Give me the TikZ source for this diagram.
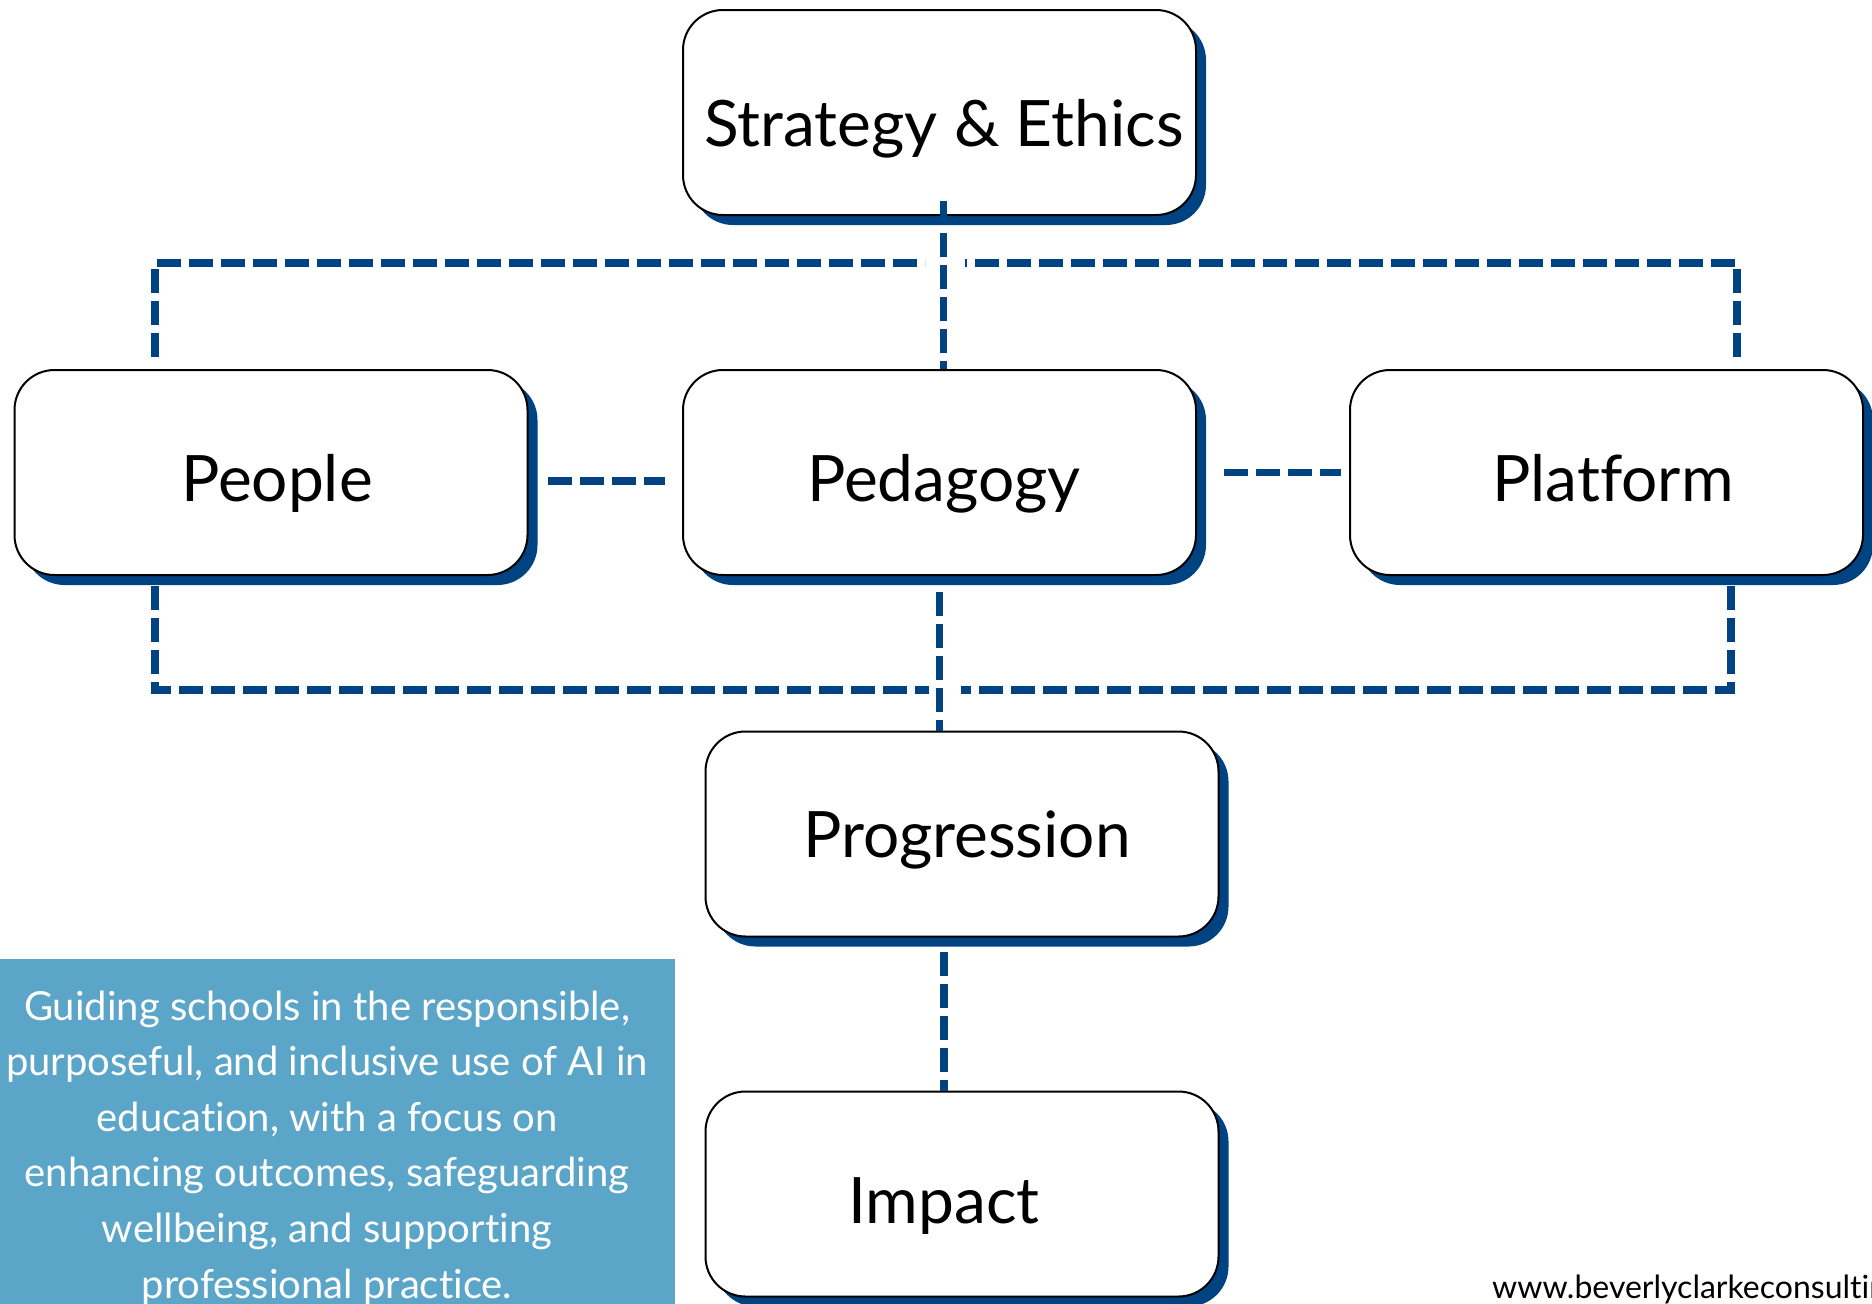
\documentclass[tikz,border=0pt]{standalone}
\usepackage{fontspec}
\setmainfont{Lato}[Ligatures=NoCommon]
\usetikzlibrary{shadows,calc}
\definecolor{navy}{RGB}{0,67,130}
\definecolor{sky}{RGB}{91,165,200}
\begin{document}
\begin{tikzpicture}[x=1pt,y=-1pt,
  box/.style={draw=black, line width=2pt, fill=white, rounded corners=40pt,
    minimum width=513pt, minimum height=205pt, inner sep=0pt,
    drop shadow={shadow xshift=10pt, shadow yshift=-10pt, fill=navy, opacity=1}},
  lbl/.style={anchor=base, inner sep=0pt, font=\fontsize{64}{77}\selectfont},
  conn/.style={draw=navy, line width=7.5pt, dash pattern=on 24pt off 8pt}]
\useasboundingbox (0,0) rectangle (1872,1304);

% boxes
\node[box] (strategy) at (939.5,112.5) {};
\node[box] (people) at (271,472.5) {};
\node[box] (pedagogy) at (939.5,472.5) {};
\node[box] (platform) at (1606.5,472.5) {};
\node[box] (progression) at (962,834) {};
\node[box] (impact) at (962,1194) {};

% labels
\node[lbl] (strategyT) at (944,146) {Strategy \& Ethics};
\node[lbl] (peopleT) at (277,501) {People};
\node[lbl] (pedagogyT) at (944,501) {Pedagogy};
\node[lbl] (platformT) at (1613,501) {Platform};
\node[lbl] (progressionT) at (967,857) {Progression};
\node[lbl] (impactT) at (944,1223) {Impact};

% junction coordinates
\coordinate (tL) at (155,263);
\coordinate (tR) at (1737,263);
\coordinate (tM1) at (925,263);
\coordinate (tM2) at (965,263);
\coordinate (bL) at (155,690);
\coordinate (bR) at (1731,690);
\coordinate (bM1) at (929,690);
\coordinate (bM2) at (961,690);

% connectors
\draw[conn] ([xshift=4pt,yshift=15pt]strategy.south) -- ([xshift=4pt]pedagogy.north);
\draw[conn, shorten <=12pt] (people.north -| tL) -- (tL) -- (tM1);
\draw[conn, shorten <=12pt] (platform.north -| tR) -- (tR) -- (tM2);
\draw[conn, shorten <=10pt] (people.south -| bL) -- (bL) -- (bM1);
\draw[conn, shorten <=10pt] (platform.south -| bR) -- (bR) -- (bM2);
\draw[conn, shorten <=19pt, shorten >=17pt] ([yshift=-8.5pt]people.east) -- ([yshift=-8.5pt]pedagogy.west);
\draw[conn, shorten <=27pt, shorten >=8pt] (pedagogy.east) -- (platform.west);
\draw[conn, shorten <=16pt] (pedagogy.south) -- (pedagogy.south |- progression.north);
\draw[conn, shorten <=14pt] ([xshift=-18pt]progression.south) -- ([xshift=-18pt]impact.north);

% blurb
\node[fill=sky, minimum width=675pt, minimum height=345pt, anchor=north west, inner sep=0pt] (blurb) at (0,959) {};
\node[anchor=base, inner sep=0pt, text=white, align=center,
  font=\fontsize{40}{55.6}\selectfont] (blurbT) at (327,1298)
  {Guiding schools in the responsible,\\
   purposeful, and inclusive use of AI in\\
   education, with a focus on\\
   enhancing outcomes, safeguarding\\
   wellbeing, and supporting\\
   professional practice.};

% url
\node[anchor=base west, inner sep=0pt, font=\fontsize{32}{38}\selectfont] (url) at (1492,1298) {www.beverlyclarkeconsulting.com};
\end{tikzpicture}
\end{document}
